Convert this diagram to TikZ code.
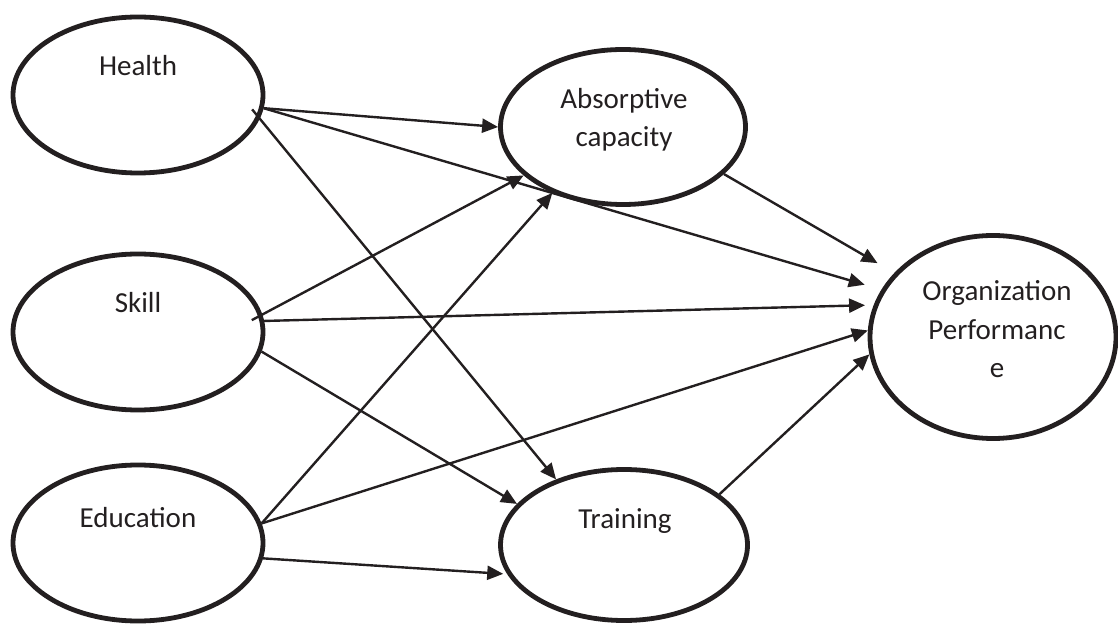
\documentclass[tikz,border=0pt]{standalone}
\usepackage{fontspec}
\setmainfont{Carlito}
\usetikzlibrary{shapes.geometric,arrows.meta}
\definecolor{ink}{RGB}{35,31,32}

\begin{document}
\begin{tikzpicture}[x=0.5pt,y=-0.5pt,
    construct/.style={draw=ink, line width=2.4pt, ellipse, inner sep=0pt, minimum width=125pt, minimum height=78pt},
    lbl/.style={text=ink, font=\fontsize{14.5pt}{19.25pt}\selectfont, inner sep=0pt, anchor=base, align=center},
    link/.style={draw=ink, line width=1.2pt, -{Triangle[length=8pt,width=7pt]}}]
\useasboundingbox (0,0) rectangle (1118,625);
% constructs
\node[construct] (health) at (138,95) {};
\node[construct] (skill) at (138,332) {};
\node[construct] (educ) at (138,543) {};
\node[construct, minimum width=122.5pt, minimum height=77.5pt] (absorb) at (623,127) {};
\node[construct, minimum width=123.5pt, minimum height=75.5pt] (train) at (624,545) {};
\node[construct, minimum width=123pt, minimum height=101.5pt] (orgperf) at (993,337) {};
% labels
\node[lbl] (healthtxt) at (138,76) {Health};
\node[lbl] (skilltxt) at (138,313) {Skill};
\node[lbl] (eductxt) at (138,527) {Education};
\node[lbl] (absorbtxt) at (624,147) {Absorptive\\capacity};
\node[lbl] (traintxt) at (625,528) {Training};
\node[lbl] (orgtxt) at (997,378) {Organization\\Performanc\\e};
% paths
\draw[link] (health.-6) -- (absorb.west);
\draw[link, shorten >=8.7pt] (health.-6) -- (orgperf.157);
\draw[link, shorten <=-6pt] (health.-11) -- (train.136);
\draw[link, shorten <=-6pt] (skill.8) -- (absorb.206);
\draw[link, shorten >=4.3pt] (skill.5) -- (orgperf.165.5);
\draw[link] (skill.-9) -- (train.159);
\draw[link] (educ.9.5) -- (absorb.223);
\draw[link] (educ.9.5) -- (orgperf.177);
\draw[link, shorten >=2pt] (educ.-7.6) -- (train.194);
\draw[link, shorten >=9.7pt] (absorb.-25) -- (orgperf.147);
\draw[link] (train.28) -- (orgperf.188);
\end{tikzpicture}
\end{document}
